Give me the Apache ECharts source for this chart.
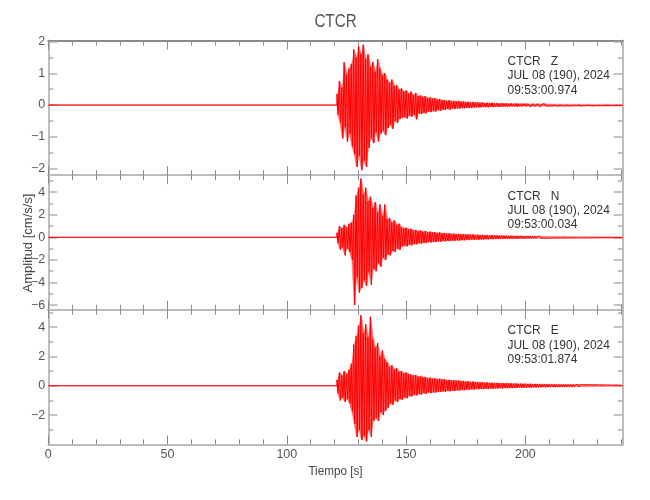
<!DOCTYPE html>
<html><head><meta charset="utf-8">
<script src="https://cdn.jsdelivr.net/npm/echarts@6/dist/echarts.min.js"></script>
<style>html,body{margin:0;padding:0;background:#fff}#c{width:650px;height:500px}</style>
</head><body><div id="c"></div>
<script>
const FONT = '"Liberation Sans",Arimo,Roboto,sans-serif';

// ---- texts ----
const stationName = 'CTCR';
const components = ['Z', 'N', 'E'];
const dateLine = 'JUL 08 (190), 2024';
const startTimes = ['09:53:00.974', '09:53:00.034', '09:53:01.874'];
const xTitle = 'Tiempo [s]';
const yTitle = 'Amplitud [cm/s/s]';

// ---- time axis ----
const xMin = 0, xMax = 240.8;
const xMinorTicks = [0,10,20,30,40,50,60,70,80,90,100,110,120,130,140,150,160,170,180,190,200,210,220,230,240];
const xMajorTicks = [0,50,100,150,200];
const xLabels = [0,50,100,150,200];

// ---- amplitude axes ----
const zRange = [-2.21, 2.03], zLabels = [-2,-1,0,1,2], zMinor = [-2,-1.5,-1,-0.5,0,0.5,1,1.5,2];
const nRange = [-6.42, 5.5], nLabels = [-6,-4,-2,0,2,4], nMinor = [-6,-5,-4,-3,-2,-1,0,1,2,3,4,5];
const eRange = [-4.0, 5.18], eLabels = [-2,0,2,4], eMinor = [-3,-2,-1,0,1,2,3,4,5];

// ---- waveform readings: quiet until onset, then per-second peak (upper) and trough (lower) ----
const quietTimes = [0, 121];
const binStart = 121;   // first 1-second bin (s)
const zUpper = [0.35,0.75,0.55,1.35,0.95,1.15,1.3,1.75,1.5,1.85,
 1.6,1.9,1.45,1.6,1.2,1.35,1.05,1.45,1.15,0.95,
 1.0,0.8,0.7,0.8,0.6,0.62,0.48,0.52,0.42,0.46,
 0.36,0.42,0.32,0.38,0.28,0.3,0.26,0.28,0.22,0.24,
 0.2,0.22,0.17,0.19,0.15,0.16,0.13,0.15,0.12,0.13,
 0.11,0.12,0.1,0.11,0.09,0.1,0.08,0.09,0.08,0.08,
 0.07,0.08,0.06,0.07,0.06,0.07,0.05,0.06,0.05,0.06,
 0.05,0.05,0.04,0.05,0.04,0.05,0.04,0.04,0.04,0.04,
 0.04,0.03,0.04,0.03,0.04,0.03,0.03,0.04,0.03,0.03,
 0.03,0.03,0.02,0.03,0.03,0.02,0.03,0.02,0.02,0.03,
 0.02,0.03,0.02,0.02,0.02,0.03,0.02,0.02,0.02,0.02,
 0.02,0.02,0.02,0.03,0.02,0.02,0.02,0.02,0.02,0.02];
const zLower = [-0.3,-0.55,-1.05,-0.7,-1.15,-0.9,-1.3,-1.55,-1.95,-1.6,
 -2.05,-1.75,-1.95,-1.35,-1.05,-1.2,-0.85,-1.15,-0.9,-0.8,
 -0.95,-0.72,-0.62,-0.75,-0.5,-0.56,-0.44,-0.4,-0.38,-0.42,
 -0.33,-0.36,-0.3,-0.45,-0.26,-0.28,-0.24,-0.26,-0.2,-0.22,
 -0.19,-0.2,-0.16,-0.18,-0.14,-0.15,-0.12,-0.14,-0.11,-0.12,
 -0.1,-0.11,-0.09,-0.1,-0.08,-0.09,-0.08,-0.08,-0.07,-0.07,
 -0.07,-0.06,-0.06,-0.07,-0.05,-0.06,-0.05,-0.05,-0.05,-0.05,
 -0.04,-0.05,-0.04,-0.04,-0.04,-0.05,-0.04,-0.04,-0.03,-0.04,
 -0.03,-0.04,-0.03,-0.03,-0.03,-0.04,-0.03,-0.03,-0.03,-0.03,
 -0.03,-0.02,-0.03,-0.03,-0.02,-0.03,-0.02,-0.03,-0.02,-0.02,
 -0.02,-0.02,-0.03,-0.02,-0.02,-0.02,-0.02,-0.03,-0.02,-0.02,
 -0.02,-0.02,-0.02,-0.02,-0.02,-0.02,-0.02,-0.02,-0.02,-0.02];
const nUpper = [0.4,1.0,0.8,1.1,0.9,1.2,1.3,2.0,3.7,4.4,
 5.2,3.8,4.4,3.2,3.6,2.6,3.1,2.2,2.9,1.9,
 2.9,1.6,1.7,1.3,1.5,1.1,1.2,0.9,0.8,0.85,
 0.7,0.75,0.6,0.65,0.55,0.6,0.5,0.55,0.45,0.5,
 0.42,0.45,0.38,0.42,0.35,0.38,0.32,0.34,0.3,0.32,
 0.28,0.3,0.26,0.28,0.24,0.25,0.22,0.24,0.2,0.22,
 0.19,0.2,0.18,0.19,0.16,0.18,0.15,0.16,0.14,0.15,
 0.13,0.14,0.12,0.13,0.12,0.12,0.11,0.12,0.1,0.11,
 0.1,0.1,0.09,0.1,0.09,0.09,0.08,0.09,0.08,0.08,
 0.08,0.07,0.08,0.07,0.07,0.1,0.07,0.06,0.07,0.06,
 0.06,0.06,0.05,0.06,0.05,0.05,0.05,0.06,0.05,0.05,
 0.05,0.04,0.05,0.04,0.05,0.04,0.04,0.04,0.04,0.04];
const nLower = [-0.5,-1.1,-0.9,-1.6,-1.0,-1.3,-2.0,-6.0,-3.5,-4.9,
 -4.5,-3.8,-4.3,-3.1,-4.2,-2.8,-3.0,-2.3,-2.6,-1.8,
 -2.0,-1.5,-1.6,-1.2,-1.3,-1.0,-1.1,-0.8,-0.75,-0.8,
 -0.65,-0.7,-0.6,-0.62,-0.52,-0.55,-0.48,-0.5,-0.42,-0.45,
 -0.4,-0.42,-0.36,-0.38,-0.33,-0.35,-0.3,-0.32,-0.28,-0.3,
 -0.26,-0.28,-0.24,-0.26,-0.22,-0.23,-0.2,-0.22,-0.19,-0.2,
 -0.18,-0.19,-0.16,-0.17,-0.15,-0.16,-0.14,-0.15,-0.13,-0.14,
 -0.12,-0.13,-0.12,-0.12,-0.11,-0.12,-0.1,-0.11,-0.1,-0.1,
 -0.09,-0.1,-0.09,-0.09,-0.08,-0.09,-0.08,-0.08,-0.07,-0.08,
 -0.07,-0.07,-0.06,-0.07,-0.06,-0.06,-0.06,-0.06,-0.05,-0.06,
 -0.05,-0.05,-0.05,-0.05,-0.05,-0.04,-0.05,-0.04,-0.04,-0.05,
 -0.04,-0.04,-0.04,-0.04,-0.04,-0.04,-0.04,-0.03,-0.04,-0.04];
const eUpper = [0.4,0.9,0.7,1.0,0.8,1.1,1.5,2.8,3.4,4.1,
 4.8,3.6,4.2,3.3,4.7,3.2,2.6,2.9,2.0,2.4,
 1.8,1.6,1.3,1.4,1.1,1.2,0.95,1.0,0.85,0.9,
 0.8,0.75,0.7,0.72,0.62,0.66,0.58,0.6,0.52,0.55,
 0.48,0.5,0.45,0.47,0.42,0.44,0.38,0.4,0.36,0.38,
 0.34,0.35,0.3,0.32,0.28,0.3,0.26,0.28,0.24,0.25,
 0.22,0.24,0.2,0.22,0.19,0.2,0.18,0.19,0.17,0.18,
 0.16,0.17,0.15,0.16,0.14,0.15,0.13,0.14,0.13,0.13,
 0.12,0.13,0.11,0.12,0.11,0.11,0.1,0.11,0.1,0.1,
 0.09,0.1,0.09,0.09,0.08,0.09,0.08,0.08,0.08,0.08,
 0.07,0.08,0.07,0.07,0.06,0.07,0.06,0.06,0.06,0.06,
 0.05,0.06,0.05,0.05,0.05,0.05,0.04,0.05,0.04,0.04];
const eLower = [-0.5,-1.0,-0.8,-1.1,-0.9,-1.2,-1.75,-2.6,-3.5,-3.0,
 -3.7,-3.4,-3.8,-3.0,-3.5,-2.4,-2.2,-2.4,-1.8,-2.0,
 -1.7,-1.5,-1.2,-1.3,-1.0,-1.1,-0.9,-0.95,-0.8,-0.85,
 -0.7,-0.72,-0.62,-0.66,-0.55,-0.6,-0.5,-0.55,-0.45,-0.5,
 -0.44,-0.46,-0.4,-0.42,-0.38,-0.4,-0.35,-0.37,-0.33,-0.35,
 -0.3,-0.32,-0.28,-0.3,-0.26,-0.27,-0.24,-0.25,-0.22,-0.23,
 -0.21,-0.22,-0.19,-0.2,-0.18,-0.19,-0.17,-0.18,-0.16,-0.17,
 -0.15,-0.16,-0.14,-0.15,-0.13,-0.14,-0.12,-0.13,-0.12,-0.12,
 -0.11,-0.12,-0.1,-0.11,-0.1,-0.1,-0.09,-0.1,-0.09,-0.09,
 -0.08,-0.09,-0.08,-0.08,-0.07,-0.08,-0.07,-0.07,-0.07,-0.07,
 -0.06,-0.07,-0.06,-0.06,-0.06,-0.06,-0.05,-0.06,-0.05,-0.05,
 -0.05,-0.05,-0.05,-0.04,-0.05,-0.04,-0.04,-0.04,-0.04,-0.04];

// ---- build ----
function trace(upper, lower) {
  const pts = quietTimes.map(t => [t, 0]);
  for (let i = 0; i < upper.length; i++) {
    const t = binStart + i;
    pts.push([t, upper[i]]);
    pts.push([t + 0.5, lower[i]]);
  }
  pts.push([xMax, 0]);
  return pts;
}
function envelope(vals) {
  const pts = [[0, 0], [binStart, 0]];
  vals.forEach((v, i) => pts.push([binStart + i + 0.25, v]));
  pts.push([xMax, 0]);
  return pts;
}
const panels = [
  { up: zUpper, lo: zLower, range: zRange, labels: zLabels, minor: zMinor },
  { up: nUpper, lo: nLower, range: nRange, labels: nLabels, minor: nMinor },
  { up: eUpper, lo: eLower, range: eRange, labels: eLabels, minor: eMinor }
];
const gridTops = [40.6, 175.2, 309.8];
const gridH = 134.6;
const LIGHT = '#bcbcbc', DARK = '#8a8a8a';
const fmt = v => (v < 0 ? '\u2212' + Math.abs(v) : String(v));

const grid = [], xAxis = [], yAxis = [], series = [], graphic = [];
panels.forEach((p, g) => {
  grid.push({ left: 48.3, right: 27.3, top: gridTops[g], height: gridH, containLabel: false });
  const mk = (pos, ticks, len, line, labels, lineColor) => ({
    type: 'value', gridIndex: g, position: pos, min: xMin, max: xMax,
    axisLine: { show: line, onZero: false, lineStyle: { color: lineColor, width: 2 } },
    axisTick: { show: true, inside: true, length: len, customValues: ticks, lineStyle: { color: '#8c8c8c', width: 1 } },
    axisLabel: labels ? { show: true, customValues: labels, color: '#555', fontFamily: FONT, fontSize: 12.5, margin: 4, formatter: fmt } : { show: false },
    splitLine: { show: false }
  });
  xAxis.push(mk('bottom', xMinorTicks, 5, true, g === 2 ? xLabels : null, LIGHT));
  xAxis.push(mk('bottom', xMajorTicks, 9, false, null, LIGHT));
  xAxis.push(mk('top', xMinorTicks, 5, true, null, g === 0 ? DARK : LIGHT));
  xAxis.push(mk('top', xMajorTicks, 9, false, null, LIGHT));
  const mky = (pos, ticks, len, line, labels) => ({
    type: 'value', gridIndex: g, position: pos, min: p.range[0], max: p.range[1],
    axisLine: { show: line, onZero: false, lineStyle: { color: LIGHT, width: 2 } },
    axisTick: { show: true, inside: true, length: len, customValues: ticks, lineStyle: { color: '#b0b0b0', width: 1.5 } },
    axisLabel: labels ? { show: true, customValues: labels, color: '#555', fontFamily: FONT, fontSize: 12.5, margin: 3, formatter: fmt } : { show: false },
    splitLine: { show: false }
  });
  yAxis.push(mky('left', p.minor, 5, true, p.labels));
  yAxis.push(mky('left', p.labels, 9, false, null));
  yAxis.push(mky('right', p.minor, 5, true, null));
  yAxis.push(mky('right', p.labels, 9, false, null));
  ['up', 'lo'].forEach(k => {
    series.push({ type: 'line', xAxisIndex: g * 4, yAxisIndex: g * 4, data: envelope(p[k]),
      showSymbol: false, symbol: 'none', animation: false,
      itemStyle: { color: '#ff5a5a' },
      lineStyle: { width: 0.5, color: '#ff6a6a' },
      areaStyle: { origin: 'auto', color: '#ff4a4a', opacity: 0.85 }, z: 1 });
  });
  series.push({
    type: 'line', xAxisIndex: g * 4, yAxisIndex: g * 4, data: trace(p.up, p.lo),
    showSymbol: false, symbol: 'none', sampling: null, animation: false,
    lineStyle: { color: '#ff0000', width: 1 }, z: 2
  });
  const info = [stationName + '   ' + components[g], dateLine, startTimes[g]];
  info.forEach((s, k) => {
    graphic.push({ type: 'text', x: 507.5, y: gridTops[g] + 21 + k * 14.3, scaleX: 0.92,
      style: { text: s, fill: '#333', font: '13px ' + FONT, textVerticalAlign: 'middle' } });
  });
});
graphic.push({ type: 'text', x: 335.5, y: 22, scaleX: 0.8, style: { text: stationName, fill: '#555', font: '19px ' + FONT, textAlign: 'center', textVerticalAlign: 'middle' } });
graphic.push({ type: 'text', x: 335.5, y: 471, scaleX: 0.9, style: { text: xTitle, fill: '#444', font: '13px ' + FONT, textAlign: 'center', textVerticalAlign: 'middle' } });
graphic.push({ type: 'text', x: 28, y: 243, rotation: Math.PI / 2, style: { text: yTitle, fill: '#444', font: '13px ' + FONT, textAlign: 'center', textVerticalAlign: 'middle' } });

const chart = echarts.init(document.getElementById('c'), null, { renderer: 'canvas' });
chart.setOption({ animation: false, backgroundColor: '#fff', grid, xAxis, yAxis, series, graphic });
</script></body></html>
